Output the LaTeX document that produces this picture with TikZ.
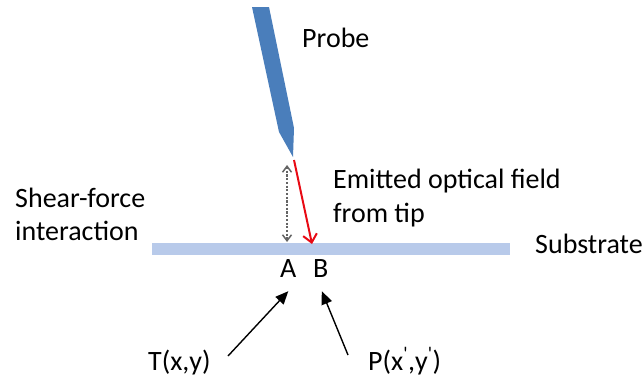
\documentclass[tikz,border=0pt]{standalone}
\usepackage{fontspec}
\setmainfont{Carlito}
\usetikzlibrary{arrows.meta}
\definecolor{probeblue}{RGB}{74,126,187}
\definecolor{subblue}{RGB}{184,202,234}
\definecolor{fieldred}{RGB}{232,10,20}
\definecolor{dotgray}{RGB}{100,100,100}
\tikzset{
  lbl/.style={anchor=base west, inner sep=0pt, font=\fontsize{28}{34}\selectfont, text=black},
  pointer/.style={line width=1.4pt, -{Triangle[length=13pt,width=11pt]}},
}
\begin{document}
\begin{tikzpicture}[x=1pt,y=-1pt]
\useasboundingbox (0,0) rectangle (644,380);
% probe
\fill[probeblue] (252,7) -- (269,7) -- (294,128) -- (293,157) -- (279,132) -- cycle;
\coordinate (tip) at (294,160);
% substrate
\fill[subblue] (152,243) rectangle (510,255);
\coordinate (sub) at (312,244);
\coordinate (dtop) at (287,165);
\coordinate (dbot) at (287,242);
% arrows at tip
\draw[dotgray, line width=1.5pt, dash pattern=on 2.2pt off 1.5pt, {Straight Barb[length=6pt,width=9pt]}-{Straight Barb[length=6pt,width=9pt]}] (dtop) -- (dbot);
\draw[fieldred, line width=2pt, -{Straight Barb[length=8pt,width=14pt]}] (tip) -- (sub);
% labels
\node[lbl] (probe) at (302,47) {Probe};
\node[lbl] (emit1) at (333,188) {Emitted optical field};
\node[lbl] (emit2) at (333,222) {from tip};
\node[lbl] (shear1) at (15,207) {Shear-force};
\node[lbl] (shear2) at (15,240) {interaction};
\node[lbl] (substrate) at (535,253) {Substrate};
\node[lbl] (A) at (280,277) {A};
\node[lbl] (B) at (313,277) {B};
\node[lbl] (T) at (148,370) {T(x,y)};
\node[lbl] (P) at (368,370) {P(x\textsuperscript{\textquotesingle},y\textsuperscript{\textquotesingle})};
\coordinate (Ttail) at (228,356);
\coordinate (Ptail) at (348,355);
\draw[pointer] (Ttail) -- ([yshift=-14pt]A.south);
\draw[pointer] (Ptail) -- ([xshift=1pt,yshift=-14pt]B.south);
\end{tikzpicture}
\end{document}
